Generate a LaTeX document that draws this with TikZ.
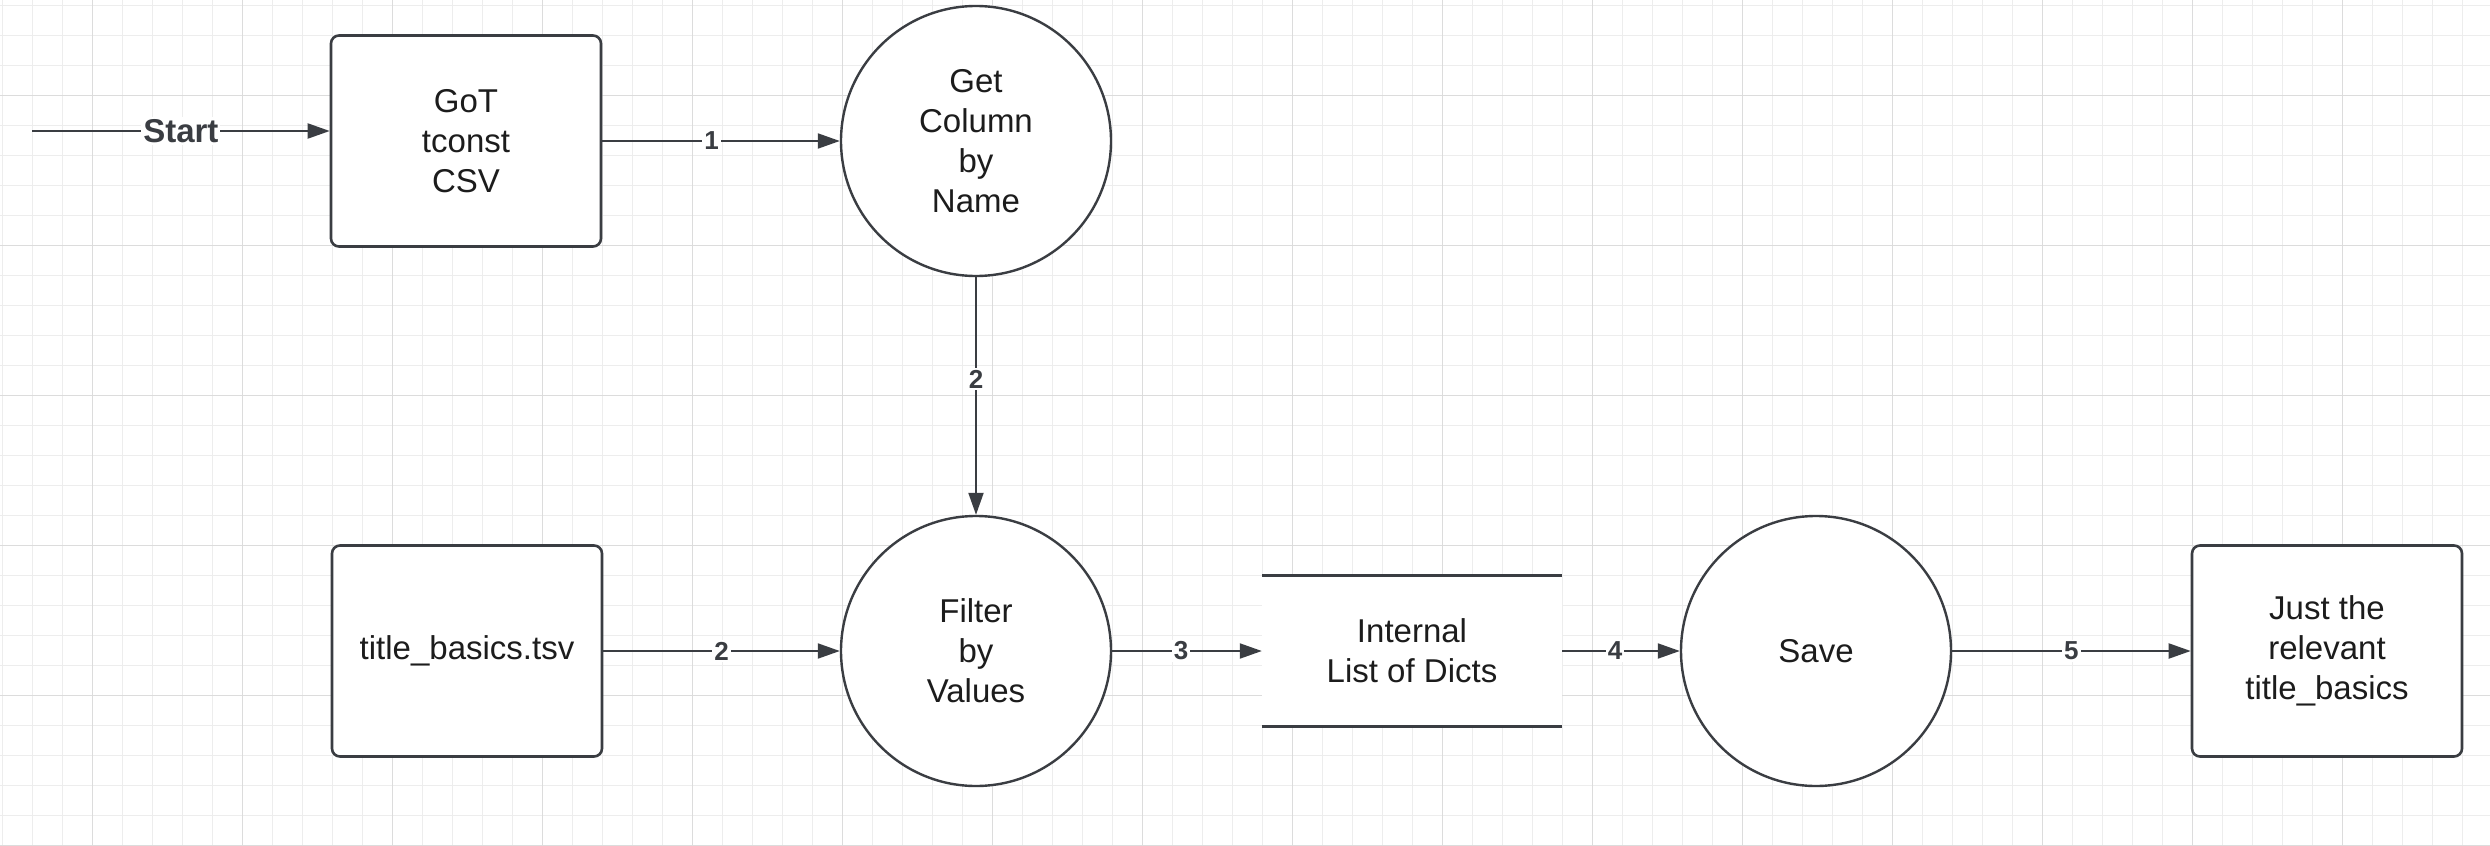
\documentclass[tikz,border=0pt]{standalone}
\usepackage{fontspec}
\setmainfont{Liberation Sans}
\usepackage{tikz}
\usetikzlibrary{arrows.meta}

\definecolor{linie}{HTML}{3A3D42}
\definecolor{schrift}{HTML}{1C1C1C}
\definecolor{gitterklein}{HTML}{EDEDED}
\definecolor{gittergross}{HTML}{DCDCDC}

\begin{document}
\begin{tikzpicture}[x=1pt,y=-1pt,
		kasten/.style={draw=linie,line width=2.6pt,rounded corners=8pt,fill=white,
			minimum width=270pt,minimum height=211pt,align=center,text=schrift,
			font=\fontsize{33}{40}\selectfont},
		kreis/.style={circle,draw=linie,line width=2.4pt,fill=white,minimum size=270pt,
			inner sep=0pt,align=center,text=schrift,font=\fontsize{33}{40}\selectfont},
		speicher/.style={fill=white,minimum width=300pt,minimum height=150pt,
			align=center,text=schrift,font=\fontsize{33}{40}\selectfont},
		pfeil/.style={linie,line width=2pt,-{Triangle[length=22pt,width=15pt]}},
		nummer/.style={fill=white,inner sep=2pt,text=linie,
			font=\fontsize{26}{30}\selectfont\bfseries}]
		\useasboundingbox (0,0) rectangle (2490,846);
		\fill[white] (0,0) rectangle (2490,846);
		
		%Gitter im Hintergrund
		\foreach \x in {2,32,...,2490} \draw[gitterklein,line width=1pt] (\x,0) -- (\x,846);
		\foreach \y in {5,35,...,846} \draw[gitterklein,line width=1pt] (0,\y) -- (2490,\y);
		\foreach \x in {92,242,...,2490} \draw[gittergross,line width=1pt] (\x,0) -- (\x,846);
		\foreach \y in {95,245,...,846} \draw[gittergross,line width=1pt] (0,\y) -- (2490,\y);
		
		%Knoten
		\node[kasten] (got) at (466,141) {GoT\\tconst\\CSV};
		\node[kreis] (get) at (976,141) {Get\\Column\\by\\Name};
		\node[kasten] (basics) at (467,651) {title\_basics.tsv};
		\node[kreis] (filter) at (976,651) {Filter\\by\\Values};
		\node[speicher] (dicts) at (1412,651) {Internal\\List of Dicts};
		\node[kreis] (save) at (1816,651) {Save};
		\node[kasten] (just) at (2327,651) {Just the\\relevant\\title\_basics};
		\draw[linie,line width=2.8pt] (dicts.north west) -- (dicts.north east);
		\draw[linie,line width=2.8pt] (dicts.south west) -- (dicts.south east);
		
		\coordinate (start) at (32,131);
		
		\path [pfeil] 
		(start) edge node [nummer,font=\fontsize{33}{36}\selectfont\bfseries]{Start} (start -| got.west)
		(got) edge node [nummer,pos=0.46]{1} (get)
		(get) edge node [nummer,pos=0.43]{2} (filter)
		(basics) edge node [nummer]{2} (filter)
		(filter) edge node [nummer,pos=0.46]{3} (dicts)
		(dicts) edge node [nummer,pos=0.45]{4} (save)
		(save) edge node [nummer]{5} (just)
		; 
\end{tikzpicture}
\end{document}
